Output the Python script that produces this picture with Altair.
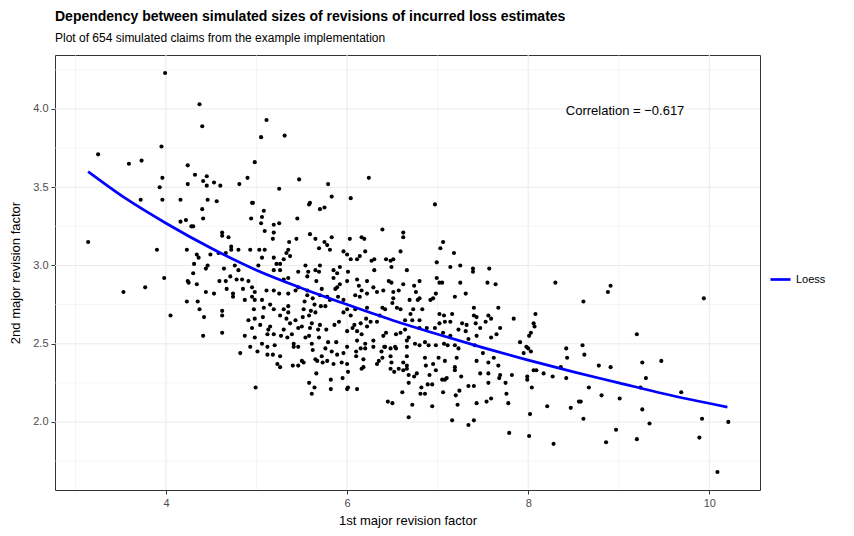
import altair as alt
import pandas as pd

TITLE = "Dependency between simulated sizes of revisions of incurred loss estimates"
SUBTITLE = "Plot of 654 simulated claims from the example implementation"
X_TITLE = "1st major revision factor"
Y_TITLE = "2nd major revision factor"
CORR_LABEL = "Correlation = \u22120.617"
CORR_POS = (9.07, 3.99)

x_major = [4, 6, 8, 10]
x_minor = [3, 5, 7, 9]
y_major = [2.0, 2.5, 3.0, 3.5, 4.0]
y_minor = [1.75, 2.25, 2.75, 3.25, 3.75, 4.25]

# simulated claims (x = 1st revision factor, y = 2nd revision factor), read by region
upper_left = [(3.99,4.23),(4.37,4.03),(4.40,3.89),(3.95,3.76),(3.25,3.71),(3.59,3.65),(3.73,3.67),
              (4.24,3.64),(4.32,3.58),(4.45,3.57),(4.41,3.54),(4.53,3.53),(4.60,3.51),(4.45,3.51),
              (4.24,3.52),(3.96,3.56),(3.93,3.50),(3.72,3.42),(3.96,3.42),(4.16,3.42),(4.46,3.42),(4.56,3.41)]
upper_mid = [(5.11,3.93),(5.05,3.82),(5.31,3.83),(4.98,3.66),(4.90,3.56),(4.81,3.52),(5.25,3.49),
             (5.47,3.55),(5.79,3.52),(5.83,3.44),(6.04,3.43),(6.24,3.56),(4.95,3.40),(5.59,3.40),(6.97,3.39)]
left_mid = [(4.40,3.36),(4.41,3.30),(4.16,3.28),(4.22,3.29),(4.28,3.25),(4.30,3.25),(3.14,3.15),(3.90,3.10),
            (4.23,3.10),(4.34,3.07),(4.36,3.05),(4.49,3.07),(4.58,3.08),(4.62,3.21),(4.62,3.19),(4.69,3.18),
            (4.72,3.12),(4.72,3.10),(4.66,3.08),(4.31,3.01),(4.44,2.98),(4.46,3.00),(4.64,2.98),(4.30,2.95),
            (4.71,2.93),(3.98,2.92),(4.24,2.90),(4.25,2.89),(4.34,2.88),(4.59,2.90),(4.66,2.90),(3.77,2.86),
            (3.53,2.83),(4.44,2.83),(4.53,2.82),(4.67,2.85),(4.74,2.82),(4.74,2.80),(4.23,2.77),(4.35,2.77),
            (4.37,2.72),(4.05,2.68),(4.42,2.67),(4.62,2.71),(4.62,2.68),(4.41,2.55),(4.62,2.57)]
lower_mid = [(4.82,2.44),(5.01,2.45),(5.12,2.48),(5.12,2.43),(5.18,2.43),(5.26,2.42),(5.23,2.37),(5.26,2.35),
             (4.99,2.22),(5.41,2.48),(5.62,2.46),(5.50,2.39),(5.52,2.38),(5.40,2.36),(5.46,2.36),(5.65,2.40),
             (5.67,2.39),(5.72,2.42),(5.73,2.38),(5.78,2.39),(5.83,2.45),(5.89,2.43),(5.96,2.44),(5.85,2.37),
             (5.94,2.38),(6.00,2.37),(5.66,2.31),(5.58,2.25),(5.64,2.22),(5.61,2.18),(5.82,2.27),(5.95,2.28),
             (6.01,2.32),(5.82,2.21),(6.00,2.21),(6.01,2.22),(6.11,2.21),(6.10,2.45),(6.10,2.42),(6.15,2.47),
             (6.20,2.47),(6.18,2.40),(6.16,2.34),(6.18,2.35),(6.33,2.37),(6.35,2.39),(6.39,2.41),(6.38,2.45),
             (6.42,2.48),(6.48,2.47),(6.54,2.47),(6.48,2.42),(6.49,2.38),(6.48,2.34),(6.52,2.32),(6.57,2.34),
             (6.62,2.33),(6.66,2.42),(6.62,2.38),(6.66,2.36),(6.68,2.30),(6.68,2.25),(6.61,2.19),(6.45,2.13),
             (6.50,2.12),(6.68,2.03)]
lower_right = [(6.72,2.11),(6.94,2.10),(7.16,2.01),(7.34,1.98),(7.40,2.01),(7.22,2.11),(7.20,2.17),(7.24,2.20),
               (7.43,2.12),(7.54,2.13),(7.59,2.15),(7.34,2.23),(7.40,2.23),(7.56,2.25),(7.76,2.18),(7.78,2.12),
               (7.79,1.93),(8.01,1.91),(8.02,2.05),(8.21,2.10),(8.28,1.86),(8.47,2.09),(8.56,2.13),(8.61,2.02),
               (8.04,2.22),(7.99,2.27),(7.99,2.29),(7.75,2.25),(7.82,2.30),(7.69,2.30),(7.68,2.28),(7.56,2.31),
               (7.47,2.31),(7.67,2.36),(7.62,2.41),(7.56,2.38),(7.50,2.44),(7.43,2.39),(7.26,2.29),(7.19,2.33),
               (7.19,2.35),(7.10,2.28),(7.08,2.27),(7.05,2.27),(7.06,2.19),(6.94,2.24),(6.89,2.24),(6.82,2.22),
               (6.81,2.18),(6.86,2.18),(6.91,2.30),(6.98,2.33),(6.87,2.36),(6.95,2.37),(6.74,2.29),(6.77,2.31),
               (6.66,2.34),(7.08,2.39),(7.01,2.41),(6.86,2.41),(7.21,2.41),(7.95,2.44),(8.00,2.47),(8.03,2.45),
               (8.06,2.33),(8.09,2.33),(8.17,2.31),(8.27,2.29),(8.36,2.35),(8.42,2.28),(8.43,2.41),(8.42,2.47),
               (8.62,2.43)]
far_right = [(8.78,2.36),(8.91,2.35),(9.26,2.38),(9.47,2.39),(9.30,2.28),(9.24,2.22),(8.67,2.22),(8.81,2.17),
             (9.01,2.15),(8.58,2.13),(8.97,1.95),(8.86,1.87),(9.20,1.89),(9.26,2.08),(9.34,1.99),(9.69,2.19),
             (9.92,2.02),(9.89,1.90),(10.21,2.00),(10.09,1.68),(8.61,2.77),(8.88,2.83),(8.91,2.87),(9.94,2.79),
             (9.20,2.56),(8.60,2.49)]
right_mid = [(7.06,3.15),(7.03,3.11),(7.18,3.08),(6.99,3.02),(7.14,2.99),(7.25,3.00),(6.66,2.97),(6.99,2.92),
             (7.02,2.89),(7.05,2.89),(6.80,2.90),(6.74,2.87),(6.76,2.83),(6.98,2.82),(6.69,2.78),(6.78,2.78),
             (6.80,2.79),(6.92,2.78),(6.95,2.79),(7.19,2.80),(7.25,2.89),(7.31,2.82),(7.39,2.98),(7.39,2.96),
             (7.57,2.98),(7.55,2.89),(7.64,2.88),(8.30,2.89),(7.40,2.73),(7.67,2.73),(7.84,2.66),(8.08,2.69),
             (8.06,2.63),(8.07,2.61),(8.03,2.57),(8.01,2.55),(7.91,2.51),(7.98,2.48),(6.73,2.72),(6.83,2.72),
             (6.70,2.69),(6.64,2.65),(6.72,2.65),(6.80,2.65),(7.02,2.69),(7.07,2.68),(7.16,2.69),(7.08,2.64),
             (7.14,2.64),(7.02,2.63),(7.27,2.63),(7.32,2.62),(7.23,2.59),(7.31,2.58),(7.40,2.68),(7.43,2.67),
             (7.42,2.63),(7.47,2.60),(7.53,2.64),(7.56,2.68),(7.59,2.66),(7.69,2.60),(7.65,2.56),(7.59,2.54),
             (7.43,2.55),(7.34,2.53),(7.06,2.57),(7.14,2.55),(6.97,2.60),(6.88,2.60),(6.80,2.60),(6.68,2.54),
             (6.75,2.50),(6.80,2.49),(6.86,2.51),(6.90,2.49),(6.98,2.49),(7.07,2.50),(7.11,2.49),(7.19,2.49),
             (7.23,2.47),(7.41,2.49),(6.66,2.48)]
centre_top = [(4.96,3.40),(5.58,3.39),(5.70,3.36),(5.75,3.37),(5.08,3.35),(5.06,3.31),(4.94,3.30),(5.05,3.27),
              (5.45,3.30),(5.19,3.26),(5.25,3.27),(5.09,3.22),(5.19,3.21),(5.18,3.17),(5.36,3.15),(5.44,3.17),
              (5.59,3.20),(5.65,3.17),(5.83,3.18),(5.75,3.15),(5.78,3.13),(5.69,3.11),(5.81,3.10),(6.03,3.17),
              (6.16,3.18),(6.19,3.17),(6.39,3.23),(6.62,3.21),(6.62,3.18),(6.59,3.09),(5.96,3.09),(6.00,3.07),
              (6.04,3.04),(6.11,3.04),(6.14,3.06),(6.20,3.09),(6.27,3.03),(6.30,3.04),(6.43,3.04),(6.48,3.03),
              (6.51,3.04),(6.49,2.99),(6.30,2.97),(6.46,2.90)]
centre_right = [(6.51,2.79),(6.50,2.76),(6.55,2.73),(6.59,2.72),(6.39,2.73),(6.42,2.72),(6.36,2.68),(6.22,2.73),
                (6.21,2.66),(6.26,2.64),(6.33,2.64),(6.22,2.61),(6.15,2.63),(6.08,2.62),(6.06,2.60),(6.11,2.58),
                (6.16,2.56),(6.29,2.52),(6.40,2.55),(6.43,2.57),(6.54,2.56),(6.59,2.57),(6.64,2.59),(6.66,2.52),
                (6.53,2.48),(6.41,2.48)]
centre = [(5.90,2.80),(5.96,2.78),(5.87,2.85),(5.89,2.86),(5.92,2.88),(5.81,2.78),(5.76,2.74),(5.71,2.74),
          (5.64,2.75),(5.62,2.79),(5.56,2.81),(5.53,2.77),(5.65,2.70),(5.60,2.71),(5.58,2.68),(5.52,2.72),
          (5.51,2.67),(5.70,2.62),(5.61,2.63),(5.59,2.60),(5.68,2.59),(5.77,2.59),(5.86,2.62),(5.91,2.64),
          (6.00,2.58),(5.88,2.51),(5.79,2.51),(5.69,2.54),(5.58,2.55),(5.50,2.61),(5.46,2.60),(5.39,2.56),
          (5.41,2.50),(5.46,2.48),(5.30,2.59),(5.27,2.55),(5.19,2.56),(5.12,2.56),(5.13,2.59),(4.98,2.54),
          (4.87,2.55),(5.20,2.49),(5.34,2.54),(5.37,2.63),(5.43,2.65),(5.33,2.66),(5.26,2.68),(5.30,2.72),
          (5.35,2.70),(5.35,2.74),(5.19,2.72),(5.15,2.75),(5.08,2.73),(4.97,2.72),(4.91,2.65),(4.98,2.66),
          (5.07,2.67),(5.04,2.62),(4.95,2.60),(4.87,2.78),(4.95,2.80),(4.98,2.78),(5.06,2.78),(5.19,2.84),
          (5.11,2.84),(4.98,2.83),(5.25,2.82),(5.35,2.82),(5.43,2.84),(5.46,2.86),(4.78,2.91),(4.84,2.91),
          (4.80,2.97),(5.02,3.00),(5.06,3.05),(5.03,3.10),(5.09,3.10),(5.19,3.05),(5.22,3.01),(5.26,3.01),
          (5.30,3.04),(5.33,3.08),(5.35,3.10),(5.37,3.06),(5.19,2.97),(5.26,2.97),(5.30,2.91),(5.35,2.92),
          (5.46,2.96),(5.54,3.00),(5.57,2.96),(5.56,2.93),(5.65,2.97),(5.69,2.96),(5.70,3.00),(5.66,2.90),
          (5.72,2.85),(5.85,2.97),(5.89,2.95),(5.92,2.99),(5.85,2.92),(6.01,2.96),(6.00,2.90),(6.11,2.91),
          (6.13,2.87),(6.22,2.90),(6.16,2.84),(6.09,2.81),(6.14,2.80),(6.22,2.82),(6.29,2.86),(6.33,2.83),
          (6.40,2.84),(6.51,2.83),(6.57,2.84),(6.62,2.88),(6.49,2.89),(6.09,2.72),(6.00,2.72),(5.96,2.70),
          (6.04,2.68),(5.70,2.81),(5.78,2.80),(5.56,2.84),(4.91,2.90),(4.95,2.86),(4.85,2.85),(4.76,3.00),
          (4.80,3.10),(4.93,3.10),(5.15,2.61),(5.06,2.50),(4.93,2.48),(5.54,2.54),(5.61,2.50),(5.76,2.47),
          (6.00,2.48),(6.11,2.52),(6.20,2.50),(6.29,2.48)]

loess_x = [3.14, 3.55, 4.0, 4.5, 5.0, 5.5, 6.0, 6.5, 7.0, 7.5, 8.0, 8.5, 9.0, 9.5, 10.2]
loess_y = [3.60, 3.43, 3.27, 3.11, 2.97, 2.855, 2.75, 2.65, 2.56, 2.475, 2.395, 2.32, 2.25, 2.18, 2.095]

regions = [upper_left, upper_mid, left_mid, lower_mid, lower_right, far_right,
           right_mid, centre_top, centre_right, centre]
points = pd.DataFrame([p for r in regions for p in r], columns=["x", "y"])
loess = pd.DataFrame({"x": loess_x, "y": loess_y, "series": ["Loess"] * len(loess_x)})

FONT = "Liberation Sans"
x_scale = alt.Scale(domain=[2.774, 10.56], nice=False, zero=False)
y_scale = alt.Scale(domain=[1.565, 4.345], nice=False, zero=False)

axis_common = dict(grid=False, domain=False, tickColor="#333333", tickSize=4, tickWidth=1,
                   labelColor="#4D4D4D", labelFontSize=11, titleFontSize=13, titleColor="black",
                   titleFontWeight="normal", labelFont=FONT, titleFont=FONT)
x_axis = alt.Axis(values=x_major, title=X_TITLE, format="d", labelPadding=3, titlePadding=6, **axis_common)
y_axis = alt.Axis(values=y_major, title=Y_TITLE, format=".1f", labelPadding=3, titlePadding=10, **axis_common)


def vgrid(vals, w):
    return alt.Chart(pd.DataFrame({"v": vals})).mark_rule(color="#EBEBEB", strokeWidth=w).encode(
        x=alt.X("v:Q", scale=x_scale, axis=x_axis))


def hgrid(vals, w):
    return alt.Chart(pd.DataFrame({"v": vals})).mark_rule(color="#EBEBEB", strokeWidth=w).encode(
        y=alt.Y("v:Q", scale=y_scale, axis=y_axis))


pts = alt.Chart(points).mark_circle(size=17, color="black", opacity=1).encode(
    x=alt.X("x:Q", scale=x_scale, axis=x_axis),
    y=alt.Y("y:Q", scale=y_scale, axis=y_axis),
)

line = alt.Chart(loess).mark_line(strokeWidth=2.7, interpolate="monotone").encode(
    x=alt.X("x:Q", scale=x_scale, axis=x_axis),
    y=alt.Y("y:Q", scale=y_scale, axis=y_axis),
    color=alt.Color("series:N", scale=alt.Scale(domain=["Loess"], range=["#0000FF"]),
                    legend=alt.Legend(title=None, orient="none", legendX=714, legendY=213,
                                      symbolType="stroke", symbolStrokeWidth=2.7, symbolSize=400,
                                      labelFontSize=11, labelFont=FONT, labelColor="black")),
)

corr = alt.Chart(pd.DataFrame({"x": [CORR_POS[0]], "y": [CORR_POS[1]], "t": [CORR_LABEL]})).mark_text(
    fontSize=13, font=FONT, color="black", align="center", baseline="middle").encode(
    x=alt.X("x:Q", scale=x_scale, axis=x_axis), y=alt.Y("y:Q", scale=y_scale, axis=y_axis), text="t:N")

chart = alt.layer(
    vgrid(x_minor, 0.55), hgrid(y_minor, 0.55), vgrid(x_major, 1.1), hgrid(y_major, 1.1),
    pts, line, corr
).properties(
    width=705, height=435,
    title=alt.TitleParams(text=TITLE, subtitle=SUBTITLE, anchor="start", frame="group", font=FONT,
                          fontSize=14, fontWeight="bold", color="black", subtitleFont=FONT,
                          subtitleFontSize=12, subtitleColor="black", offset=10, subtitlePadding=9.5),
    padding={"left": 47, "top": 47, "right": 86, "bottom": 38},
    autosize=alt.AutoSizeParams(type="none"),
).configure(font=FONT).configure_view(stroke="#333333", strokeWidth=1)

chart.save("out.html", embed_options={"renderer": "svg", "actions": False})
